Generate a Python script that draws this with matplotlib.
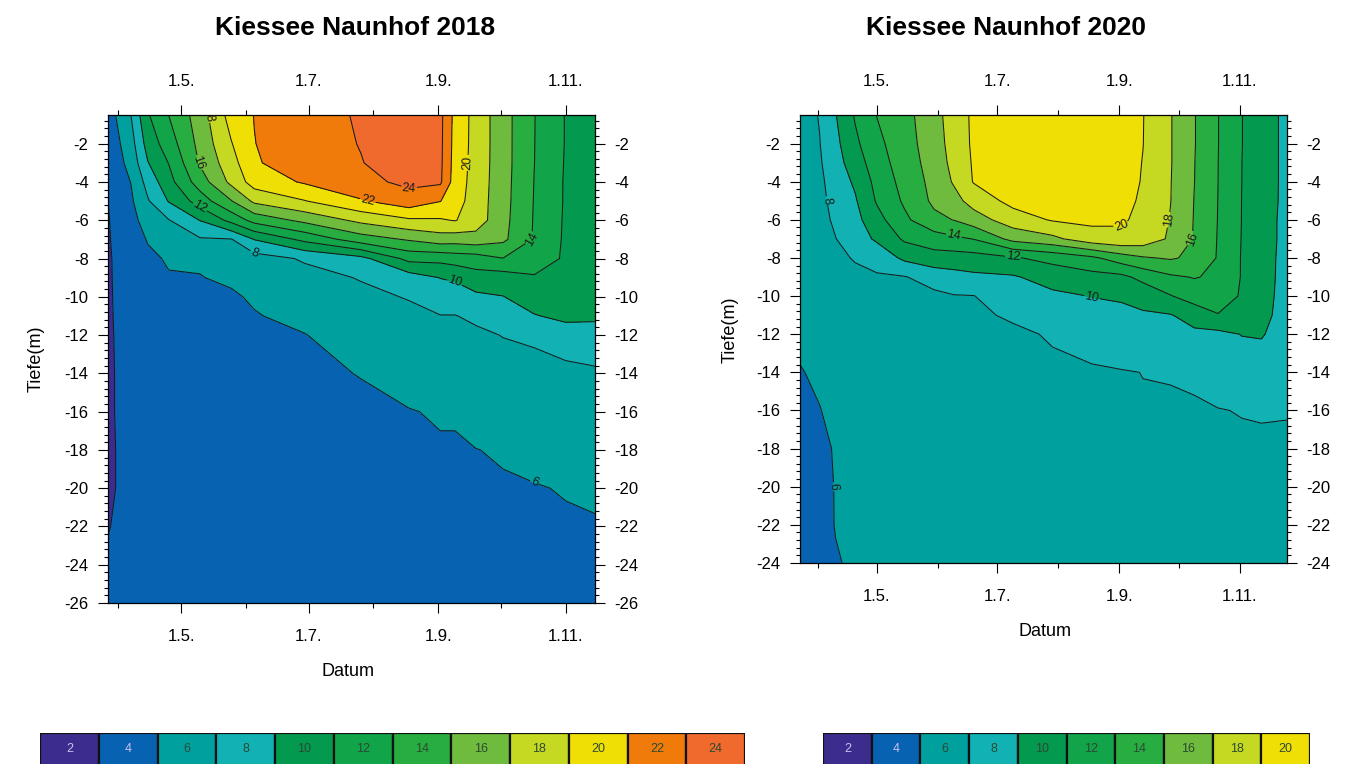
import numpy as np
import pandas as pd
import matplotlib
matplotlib.use("Agg")
import matplotlib.pyplot as plt
import matplotlib.dates as mdates
from matplotlib.ticker import FixedLocator, AutoMinorLocator, FuncFormatter

plt.rcParams['font.family'] = ['Liberation Sans', 'DejaVu Sans']
plt.rcParams['axes.unicode_minus'] = False

# temperature classes (deg C) and their colours
levels = [2, 4, 6, 8, 10, 12, 14, 16, 18, 20, 22, 24, 26]
class_colors = ["#3b2c8e", "#0862b2", "#00a09e", "#12b2b4", "#03994f", "#12a448",
                "#27ad40", "#6fbb3d", "#c6d922", "#f0df05", "#f07a0a", "#ef6a2c"]
bar_labels_2018 = ["2", "4", "6", "8", "10", "12", "14", "16", "18", "20", "22", "24"]
bar_labels_2020 = ["2", "4", "6", "8", "10", "12", "14", "16", "18", "20"]

# ---- Kiessee Naunhof 2018: one temperature profile per date
dates_2018 = ["2018-03-27", "2018-04-07", "2018-04-15", "2018-04-25", "2018-05-10",
              "2018-05-25", "2018-06-05", "2018-06-29", "2018-07-26", "2018-08-18",
              "2018-09-02", "2018-09-09", "2018-09-19", "2018-10-02", "2018-10-17",
              "2018-11-01", "2018-11-15"]
depth_2018 = [0.5, 2, 3, 4, 5, 6, 7, 8, 9, 10, 11, 12, 14, 16, 18, 20, 22, 24, 26]
temp_2018 = [
    [5.0, 4.6, 4.4, 4.2, 4.0, 3.9, 3.85, 3.8, 3.8, 3.8, 3.8, 3.8, 3.8, 3.8, 3.8, 3.8, 3.95, 4.15, 4.3],
    [8.0, 7.2, 6.7, 6.05, 5.7, 5.4, 5.2, 5.0, 4.9, 4.8, 4.7, 4.6, 4.5, 4.5, 4.4, 4.4, 4.4, 4.4, 4.5],
    [11.8, 10.8, 9.9, 8.7, 7.8, 6.8, 6.1, 5.7, 5.5, 5.3, 5.15, 5.0, 4.9, 4.8, 4.7, 4.7, 4.6, 4.6, 4.6],
    [14.0, 13.0, 12.05, 11.3, 10.1, 7.9, 7.0, 6.15, 5.9, 5.6, 5.4, 5.2, 5.05, 4.9, 4.8, 4.8, 4.7, 4.7, 4.7],
    [17.0, 16.6, 16.2, 15.0, 12.9, 10.05, 7.8, 6.2, 5.95, 5.7, 5.5, 5.35, 5.15, 5.05, 4.9, 4.9, 4.8, 4.8, 4.8],
    [20.8, 19.9, 19.2, 18.5, 15.9, 12.6, 7.9, 7.3, 6.25, 5.8, 5.6, 5.5, 5.3, 5.2, 5.1, 5.05, 5.0, 4.9, 4.9],
    [22.05, 21.95, 21.8, 20.9, 18.4, 14.7, 10.05, 7.2, 6.6, 6.2, 5.9, 5.75, 5.5, 5.35, 5.25, 5.15, 5.1, 5.05, 5.0],
    [23.6, 23.4, 23.05, 22.2, 19.9, 16.5, 12.5, 8.2, 7.4, 7.05, 6.45, 5.95, 5.7, 5.5, 5.4, 5.3, 5.2, 5.1, 5.05],
    [24.1, 24.05, 23.95, 23.5, 21.8, 18.5, 15.05, 9.4, 8.1, 7.6, 7.2, 6.8, 6.05, 5.7, 5.5, 5.4, 5.3, 5.2, 5.2],
    [25.0, 24.9, 24.7, 24.4, 23.2, 19.7, 16.2, 12.6, 9.05, 8.1, 7.6, 7.2, 6.5, 5.95, 5.8, 5.7, 5.6, 5.5, 5.4],
    [24.5, 24.45, 24.4, 24.3, 22.05, 19.8, 17.05, 12.6, 10.05, 8.9, 7.95, 7.5, 6.7, 6.1, 5.9, 5.75, 5.65, 5.55, 5.45],
    [21.4, 21.3, 21.2, 21.05, 20.8, 20.1, 16.9, 12.9, 10.3, 8.9, 7.95, 7.5, 6.9, 6.1, 5.9, 5.8, 5.7, 5.6, 5.5],
    [19.3, 19.3, 19.25, 19.2, 19.1, 19.05, 17.2, 13.05, 11.2, 9.6, 8.3, 7.7, 7.1, 6.5, 5.98, 5.85, 5.75, 5.65, 5.55],
    [16.8, 16.8, 16.8, 16.75, 16.7, 16.6, 16.4, 13.95, 11.05, 9.95, 8.9, 8.05, 7.3, 6.7, 6.1, 5.9, 5.8, 5.7, 5.6],
    [14.05, 14.03, 14.01, 13.95, 13.9, 13.85, 13.8, 13.6, 11.7, 10.9, 9.9, 8.3, 7.4, 6.9, 6.3, 5.95, 5.85, 5.75, 5.65],
    [11.9, 11.9, 11.85, 11.8, 11.8, 11.75, 11.7, 11.6, 11.3, 10.9, 10.4, 9.2, 7.4, 6.9, 6.4, 6.05, 5.9, 5.8, 5.7],
    [10.9, 10.85, 10.85, 10.8, 10.8, 10.8, 10.75, 10.7, 10.6, 10.5, 10.3, 9.3, 7.7, 7.05, 6.5, 6.2, 5.9, 5.8, 5.7],
]

# ---- Kiessee Naunhof 2020
dates_2020 = ["2020-03-23", "2020-04-02", "2020-04-10", "2020-04-20", "2020-05-01",
              "2020-05-15", "2020-05-30", "2020-06-09", "2020-06-19", "2020-07-09",
              "2020-07-29", "2020-08-18", "2020-09-02", "2020-09-13", "2020-09-27",
              "2020-10-09", "2020-10-21", "2020-11-02", "2020-11-12", "2020-11-25"]
depth_2020 = [0.5, 2, 3, 4, 5, 6, 7, 8, 9, 10, 11, 12, 14, 16, 18, 20, 22, 24]
temp_2020 = [
    [7.2, 7.1, 7.1, 7.05, 7.0, 6.9, 6.85, 6.8, 6.7, 6.6, 6.5, 6.4, 5.9, 5.6, 5.4, 5.3, 5.2, 5.2],
    [8.1, 7.95, 7.8, 7.6, 7.5, 7.4, 7.3, 7.2, 7.1, 7.05, 6.8, 6.6, 6.3, 5.95, 5.7, 5.6, 5.5, 5.5],
    [9.9, 9.5, 9.2, 8.9, 8.6, 8.3, 7.95, 7.7, 7.5, 7.3, 7.15, 7.05, 6.7, 6.4, 6.1, 6.05, 6.05, 5.9],
    [12.2, 11.6, 11.05, 10.3, 9.8, 9.4, 9.05, 8.1, 7.7, 7.5, 7.35, 7.2, 6.9, 6.7, 6.5, 6.4, 6.3, 6.2],
    [14.05, 13.5, 13.05, 12.6, 12.2, 11.3, 10.3, 8.7, 7.8, 7.6, 7.45, 7.3, 7.1, 6.9, 6.8, 6.7, 6.6, 6.5],
    [15.4, 15.2, 15.05, 14.7, 14.3, 13.6, 12.3, 10.4, 7.9, 7.7, 7.55, 7.45, 7.3, 7.1, 7.05, 6.9, 6.8, 6.7],
    [17.2, 17.05, 16.8, 16.6, 16.4, 15.5, 13.05, 11.2, 8.8, 7.6, 7.5, 7.4, 7.3, 7.2, 7.1, 7.05, 6.9, 6.8],
    [19.05, 18.8, 18.6, 18.2, 17.3, 16.05, 13.6, 11.1, 9.3, 7.9, 7.75, 7.6, 7.45, 7.3, 7.2, 7.1, 7.05, 6.9],
    [20.3, 20.3, 20.2, 20.1, 18.8, 17.05, 14.05, 11.2, 9.6, 7.95, 7.8, 7.7, 7.5, 7.4, 7.3, 7.2, 7.1, 7.05],
    [21.05, 21.0, 20.9, 20.8, 20.6, 19.05, 16.6, 11.8, 9.8, 9.1, 8.15, 7.8, 7.7, 7.55, 7.45, 7.35, 7.25, 7.15],
    [21.3, 21.3, 21.2, 21.05, 20.7, 20.15, 17.5, 12.6, 10.8, 9.6, 8.7, 8.1, 7.8, 7.6, 7.5, 7.4, 7.3, 7.2],
    [21.2, 21.2, 21.1, 21.05, 20.8, 20.4, 19.2, 13.6, 11.3, 10.05, 9.3, 8.7, 7.8, 7.7, 7.6, 7.5, 7.4, 7.3],
    [20.8, 20.8, 20.7, 20.6, 20.4, 20.2, 19.6, 15.05, 11.5, 10.2, 9.6, 9.2, 7.9, 7.8, 7.7, 7.6, 7.5, 7.4],
    [20.05, 20.02, 19.95, 19.9, 19.8, 19.6, 19.2, 15.8, 12.6, 10.6, 9.8, 9.4, 8.02, 7.9, 7.8, 7.7, 7.6, 7.5],
    [18.1, 18.1, 18.1, 18.05, 18.02, 17.9, 17.7, 16.2, 13.7, 11.9, 9.9, 9.3, 8.05, 7.9, 7.85, 7.75, 7.65, 7.55],
    [16.1, 16.1, 16.05, 16.02, 15.95, 15.9, 15.85, 15.6, 14.1, 12.9, 10.8, 9.6, 8.3, 7.8, 7.75, 7.7, 7.6, 7.5],
    [14.05, 14.05, 14.02, 14.01, 13.98, 13.95, 13.9, 13.85, 13.7, 13.05, 11.9, 9.5, 8.7, 7.95, 7.8, 7.7, 7.6, 7.5],
    [12.05, 12.05, 12.02, 12.01, 11.99, 11.98, 11.95, 11.9, 11.9, 11.8, 11.3, 10.05, 9.05, 8.05, 7.8, 7.7, 7.6, 7.5],
    [10.8, 10.8, 10.8, 10.8, 10.75, 10.7, 10.7, 10.65, 10.6, 10.5, 10.4, 10.1, 9.3, 8.1, 7.8, 7.7, 7.6, 7.5],
    [9.6, 9.6, 9.6, 9.6, 9.6, 9.55, 9.55, 9.5, 9.5, 9.5, 9.45, 9.4, 9.05, 8.1, 7.7, 7.6, 7.5, 7.4],
]


def month_label(v, pos):
    d = mdates.num2date(v)
    return f"{d.day}.{d.month}."


def draw_lake(ax, dates, depths, temps, year, ymin):
    x = mdates.date2num(pd.to_datetime(dates))
    y = -np.array(depths)
    z = np.array(temps).T
    ax.contourf(x, y, z, levels=levels, colors=class_colors)
    cs = ax.contour(x, y, z, levels=levels[1:-1], colors="#1a1a1a", linewidths=0.75)
    ax.clabel(cs, levels=[l for l in cs.levels if l >= 6], fmt="%d", fontsize=9,
              inline=True, inline_spacing=1)
    ax.set_xlim(x[0], x[-1])
    ax.set_ylim(ymin, -0.5)

    months = mdates.date2num(pd.date_range(f"{year}-04-01", periods=8, freq="MS"))
    ax.xaxis.set_major_locator(FixedLocator(months[1::2]))
    ax.xaxis.set_minor_locator(FixedLocator(months[0::2]))
    ax.xaxis.set_major_formatter(FuncFormatter(month_label))
    ax.yaxis.set_major_locator(FixedLocator(np.arange(-2, ymin - 1, -2)))
    ax.yaxis.set_minor_locator(AutoMinorLocator(5))

    ax.tick_params(which="both", direction="out", top=True, right=True,
                   labeltop=True, labelright=True, labelsize=12, width=0.8)
    ax.tick_params(axis="x", which="major", length=7, pad=12)
    ax.tick_params(axis="x", which="minor", length=3.5)
    ax.tick_params(axis="y", which="major", length=7, pad=7)
    ax.tick_params(axis="y", which="minor", length=3)
    for s in ax.spines.values():
        s.set_linewidth(0.9)

    ax.set_ylabel("Tiefe(m)", fontsize=13)
    ax.set_xlabel("Datum", fontsize=13)


def draw_bar(ax, labels):
    n = len(labels)
    ax.bar(np.arange(n), 1, width=1, color=class_colors[:n], edgecolor="#111111", linewidth=1.6)
    for i, t in enumerate(labels):
        tc = "#c9c3ee" if i < 2 else "#2c4a32"
        ax.text(i, 0.55, t, ha="center", va="center", fontsize=9, color=tc)
    ax.set_xlim(-0.5, n - 0.5)
    ax.set_ylim(0, 1)
    ax.axis("off")


fig = plt.figure(figsize=(13.5, 7.64), dpi=100)

ax1 = fig.add_axes([108 / 1350, 1 - 603 / 764, 487 / 1350, 488 / 764])
draw_lake(ax1, dates_2018, depth_2018, temp_2018, 2018, -26)
ax1.yaxis.set_label_coords(-0.131, 0.5)
ax1.xaxis.set_label_coords(0.493, -0.123)

ax2 = fig.add_axes([800 / 1350, 1 - 563 / 764, 487 / 1350, 448 / 764])
draw_lake(ax2, dates_2020, depth_2020, temp_2020, 2020, -24)
ax2.yaxis.set_label_coords(-0.127, 0.52)
ax2.xaxis.set_label_coords(0.503, -0.134)

fig.text(355 / 1350, 1 - 28 / 764, "Kiessee Naunhof 2018", ha="center", va="center",
         fontsize=19, fontweight="bold")
fig.text(1006 / 1350, 1 - 28 / 764, "Kiessee Naunhof 2020", ha="center", va="center",
         fontsize=19, fontweight="bold")

bar1 = fig.add_axes([40 / 1350, 1 - 768 / 764, 705 / 1350, 35 / 764])
draw_bar(bar1, bar_labels_2018)
bar2 = fig.add_axes([823 / 1350, 1 - 768 / 764, 487 / 1350, 35 / 764])
draw_bar(bar2, bar_labels_2020)

fig.savefig("out.png", dpi=100)
